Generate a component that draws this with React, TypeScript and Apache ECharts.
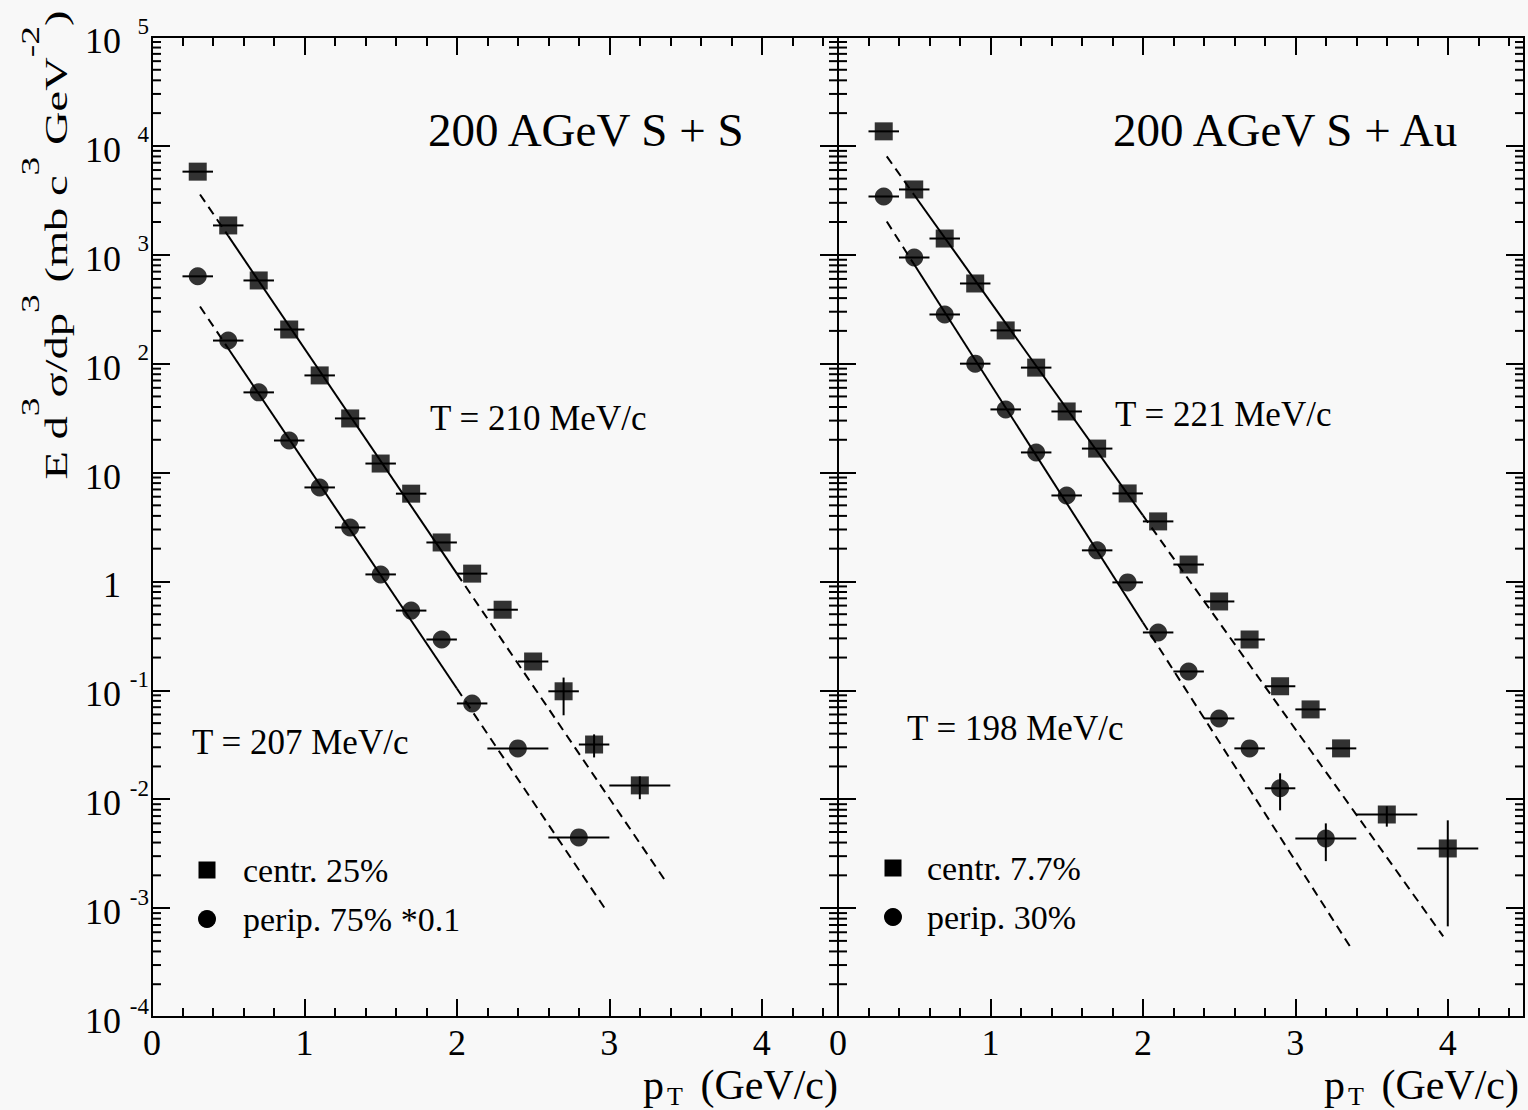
import React, { useEffect, useRef } from "react";
import * as echarts from "echarts";

const SERIF = "'Liberation Serif', 'Times New Roman', serif";
const INK = "#000";
const X_MAX = 4.5;

// ---- 200 AGeV S + S ----
const ssCentralPt = [0.3, 0.5, 0.7, 0.9, 1.1, 1.3, 1.5, 1.7, 1.9, 2.1, 2.3, 2.5, 2.7, 2.9, 3.2];
const ssCentralVal = [5800, 1860, 581, 206, 78, 31.4, 12.1, 6.4, 2.28, 1.18, 0.55, 0.184, 0.098, 0.0318, 0.0134];
const ssCentralDx = [0.1, 0.1, 0.1, 0.1, 0.1, 0.1, 0.1, 0.1, 0.1, 0.1, 0.1, 0.1, 0.1, 0.1, 0.2];
const ssCentralLo = [null, null, null, null, null, null, null, null, null, null, null, null, 0.059, 0.0242, 0.0100];
const ssCentralHi = [null, null, null, null, null, null, null, null, null, null, null, null, 0.131, 0.0394, 0.0162];

const ssPeriphPt = [0.3, 0.5, 0.7, 0.9, 1.1, 1.3, 1.5, 1.7, 1.9, 2.1, 2.4, 2.8];
const ssPeriphVal = [634, 163, 54.5, 19.7, 7.3, 3.13, 1.16, 0.54, 0.293, 0.0758, 0.0293, 0.00446];
const ssPeriphDx = [0.1, 0.1, 0.1, 0.1, 0.1, 0.1, 0.1, 0.1, 0.1, 0.1, 0.2, 0.2];

// ---- 200 AGeV S + Au ----
const sauCentralPt = [0.3, 0.5, 0.7, 0.9, 1.1, 1.3, 1.5, 1.7, 1.9, 2.1, 2.3, 2.5, 2.7, 2.9, 3.1, 3.3, 3.6, 4.0];
const sauCentralVal = [13600, 3980, 1410, 545, 202, 92, 36.4, 16.6, 6.43, 3.56, 1.43, 0.655, 0.293, 0.109, 0.0668, 0.0293, 0.00724, 0.00353];
const sauCentralDx = [0.1, 0.1, 0.1, 0.1, 0.1, 0.1, 0.1, 0.1, 0.1, 0.1, 0.1, 0.1, 0.1, 0.1, 0.1, 0.1, 0.2, 0.2];
const sauCentralLo = [null, null, null, null, null, null, null, null, null, null, null, null, null, null, null, null, 0.0056, 0.00068];
const sauCentralHi = [null, null, null, null, null, null, null, null, null, null, null, null, null, null, null, null, 0.0086, 0.0064];

const sauPeriphPt = [0.3, 0.5, 0.7, 0.9, 1.1, 1.3, 1.5, 1.7, 1.9, 2.1, 2.3, 2.5, 2.7, 2.9, 3.2];
const sauPeriphVal = [3430, 944, 283, 100, 38, 15.3, 6.16, 1.93, 0.98, 0.34, 0.149, 0.0552, 0.0293, 0.0126, 0.00436];
const sauPeriphDx = [0.1, 0.1, 0.1, 0.1, 0.1, 0.1, 0.1, 0.1, 0.1, 0.1, 0.1, 0.1, 0.1, 0.1, 0.2];
const sauPeriphLo = [null, null, null, null, null, null, null, null, null, null, null, null, null, 0.0079, 0.0027];
const sauPeriphHi = [null, null, null, null, null, null, null, null, null, null, null, null, null, 0.0173, 0.0060];

// Exponential fits: [start of dashed part, start of solid part, end of solid part, end of dashed part]
const fitSSCentral = [[0.315, 3580], [0.5, 1490], [2.0, 1.18], [3.37, 0.00176]];
const fitSSPeriph = [[0.315, 335], [0.5, 138], [2.0, 0.104], [2.98, 0.00095]];
const fitSAuCentral = [[0.32, 8000], [0.5, 3540], [2.0, 4.04], [3.97, 0.00055]];
const fitSAuPeriph = [[0.32, 2020], [0.5, 813], [2.0, 0.42], [3.37, 0.00042]];

const decadeMinors = [2, 3, 4, 5, 6, 7, 8, 9];
const decadeExponents = [-4, -3, -2, -1, 0, 1, 2, 3, 4];

const GRID_TOP = 37;
const GRID_H = 980;
const PANEL_W = 686;
const LEFT_X = 152;
const RIGHT_X = LEFT_X + PANEL_W;

function errorData(pt: number[], val: number[], dx: number[], lo?: (number | null)[], hi?: (number | null)[]) {
  return pt.map((x, i) => [
    x,
    val[i],
    x - dx[i],
    x + dx[i],
    lo && lo[i] != null ? (lo[i] as number) : val[i],
    hi && hi[i] != null ? (hi[i] as number) : val[i],
  ]);
}

const errRender = (_params: any, api: any) => {
  const x = api.value(0);
  const y = api.value(1);
  const c = api.coord([x, y]);
  const l = api.coord([api.value(2), y]);
  const r = api.coord([api.value(3), y]);
  const st = { stroke: INK, lineWidth: 2 };
  const children: any[] = [
    { type: "line", shape: { x1: l[0], y1: c[1], x2: r[0], y2: c[1] }, style: st },
  ];
  const lo = api.value(4);
  const hi = api.value(5);
  if (lo !== y || hi !== y) {
    const b = api.coord([x, lo]);
    const t = api.coord([x, hi]);
    children.push({ type: "line", shape: { x1: c[0], y1: b[1], x2: c[0], y2: t[1] }, style: st });
  }
  return { type: "group", children };
};

const minorTickRender = (_params: any, api: any) => {
  const v = api.value(1);
  const a = api.coord([0, v]);
  const b = api.coord([X_MAX, v]);
  const st = { stroke: INK, lineWidth: 2 };
  return {
    type: "group",
    children: [
      { type: "line", shape: { x1: a[0], y1: a[1], x2: a[0] + 9, y2: a[1] }, style: st },
      { type: "line", shape: { x1: b[0] - 9, y1: b[1], x2: b[0], y2: b[1] }, style: st },
    ],
  };
};

function minorTickData() {
  const out: number[][] = [];
  decadeExponents.forEach((e) => decadeMinors.forEach((m) => out.push([0, m * Math.pow(10, e)])));
  return out;
}

function xAxes(grid: number) {
  const base = {
    type: "value",
    gridIndex: grid,
    min: 0,
    max: X_MAX,
    splitLine: { show: false },
    axisLine: { show: true, onZero: false, lineStyle: { color: INK, width: 2 } },
  };
  const axes: any[] = [];
  (["bottom", "top"] as const).forEach((pos) => {
    axes.push({
      ...base,
      position: pos,
      interval: 0.2,
      axisTick: { show: true, inside: true, length: 9, lineStyle: { color: INK, width: 2 } },
      axisLabel: { show: false },
    });
    axes.push({
      ...base,
      position: pos,
      interval: 1,
      axisTick: { show: true, inside: true, length: 18, lineStyle: { color: INK, width: 2 } },
      axisLabel: {
        show: pos === "bottom",
        margin: 11,
        color: INK,
        fontFamily: SERIF,
        fontSize: 36,
        lineHeight: 30,
        formatter: (v: number) => (Math.abs(v - Math.round(v)) < 1e-6 && v <= 4 ? String(Math.round(v)) : ""),
      },
    });
  });
  return axes;
}

function yAxis(grid: number, pos: "left" | "right", labels: boolean) {
  return {
    type: "log",
    logBase: 10,
    gridIndex: grid,
    position: pos,
    min: 1e-4,
    max: 1e5,
    splitNumber: 9,
    splitLine: { show: false },
    minorTick: { show: false },
    axisLine: { show: true, onZero: false, lineStyle: { color: INK, width: 2 } },
    axisTick: { show: true, inside: true, length: 18, lineStyle: { color: INK, width: 2 } },
    axisLabel: {
      show: labels,
      margin: 3,
      color: INK,
      fontFamily: SERIF,
      formatter: (v: number) => {
        const e = Math.round(Math.log10(v));
        if (e === 0) return "{b|1}{e| }";
        if (e === 1) return "{b|10}{e| }";
        return `{b|10}{e|${e}}`;
      },
      rich: {
        b: { fontSize: 36, fontFamily: SERIF, color: INK, lineHeight: 44, padding: [8, 0, 0, 0] },
        e: { fontSize: 23, fontFamily: SERIF, color: INK, lineHeight: 22, padding: [4, 0, 26, 0], width: 28, align: "right" },
      },
    },
  };
}

function panelSeries(
  xBase: number,
  yBase: number,
  central: { name: string; data: number[][] },
  periph: { name: string; data: number[][] },
  fits: number[][][]
) {
  const xi = xBase + 1;
  const series: any[] = [];
  series.push({
    type: "custom",
    xAxisIndex: xi,
    yAxisIndex: yBase,
    renderItem: minorTickRender,
    data: minorTickData(),
    silent: true,
    z: 1,
  });
  fits.forEach((f) => {
    series.push({
      type: "line",
      xAxisIndex: xi,
      yAxisIndex: yBase,
      data: [f[1], f[2]],
      showSymbol: false,
      lineStyle: { color: INK, width: 2 },
      silent: true,
      z: 2,
    });
    [[f[0], f[1]], [f[2], f[3]]].forEach((seg) =>
      series.push({
        type: "line",
        xAxisIndex: xi,
        yAxisIndex: yBase,
        data: seg,
        showSymbol: false,
        lineStyle: { color: INK, width: 2, type: [9, 6] },
        silent: true,
        z: 2,
      })
    );
  });
  [central, periph].forEach((s, k) => {
    series.push({
      type: "custom",
      xAxisIndex: xi,
      yAxisIndex: yBase,
      renderItem: errRender,
      data: s.data,
      silent: true,
      z: 3,
    });
    series.push({
      type: "scatter",
      name: s.name,
      xAxisIndex: xi,
      yAxisIndex: yBase,
      symbol: k === 0 ? "rect" : "circle",
      symbolSize: 18,
      itemStyle: { color: INK },
      data: s.data.map((d) => [d[0], d[1]]),
      z: 4,
    });
  });
  return series;
}

function legendItems(x: number, y1: number, y2: number, t1: string, t2: string, tx: number) {
  return [
    { type: "rect", shape: { x: x - 8.5, y: y1 - 8.5, width: 17, height: 17 }, style: { fill: INK } },
    { type: "circle", shape: { cx: x, cy: y2, r: 9 }, style: { fill: INK } },
    { type: "text", x: tx, y: y1, style: { text: t1, font: `34px ${SERIF}`, fill: INK, verticalAlign: "middle" } },
    { type: "text", x: tx, y: y2, style: { text: t2, font: `34px ${SERIF}`, fill: INK, verticalAlign: "middle" } },
  ];
}

function label(text: string, x: number, y: number, size: number) {
  return { type: "text", x, y, style: { text, font: `${size}px ${SERIF}`, fill: INK, verticalAlign: "middle" } };
}

// "p_T (GeV/c)" axis title, laid out from its right edge
function ptTitle(xRight: number) {
  return [
    { type: "text", x: xRight - 195, y: 1085, style: { text: "p", font: `42px ${SERIF}`, fill: INK, verticalAlign: "middle" } },
    { type: "text", x: xRight - 171, y: 1096, style: { text: "T", font: `26px ${SERIF}`, fill: INK, verticalAlign: "middle" } },
    { type: "text", x: xRight, y: 1085, style: { text: "(GeV/c)", font: `42px ${SERIF}`, fill: INK, align: "right", verticalAlign: "middle" } },
  ];
}

export default function App() {
  const ref = useRef<HTMLDivElement>(null);

  useEffect(() => {
    if (!ref.current) return;
    const chart = echarts.init(ref.current, undefined, { renderer: "svg" });

    // rotated y title: tokens padded to the same height so the exponents sit above the baseline
    const sup = { fontSize: 25, fontFamily: SERIF, fill: INK, lineHeight: 26, padding: [0, 0, 28, 0] };
    const main = { fontSize: 31, fontFamily: SERIF, fill: INK, lineHeight: 30, padding: [24, 0, 0, 0] };

    chart.setOption({
      animation: false,
      backgroundColor: "#f8f8f8",
      grid: [
        { left: LEFT_X, top: GRID_TOP, width: PANEL_W, height: GRID_H },
        { left: RIGHT_X, top: GRID_TOP, width: PANEL_W, height: GRID_H },
      ],
      xAxis: [...xAxes(0), ...xAxes(1)],
      yAxis: [yAxis(0, "left", true), yAxis(0, "right", false), yAxis(1, "left", false), yAxis(1, "right", false)],
      series: [
        ...panelSeries(
          0,
          0,
          { name: "centr. 25%", data: errorData(ssCentralPt, ssCentralVal, ssCentralDx, ssCentralLo, ssCentralHi) },
          { name: "perip. 75% *0.1", data: errorData(ssPeriphPt, ssPeriphVal, ssPeriphDx) },
          [fitSSCentral, fitSSPeriph]
        ),
        ...panelSeries(
          4,
          2,
          { name: "centr. 7.7%", data: errorData(sauCentralPt, sauCentralVal, sauCentralDx, sauCentralLo, sauCentralHi) },
          { name: "perip. 30%", data: errorData(sauPeriphPt, sauPeriphVal, sauPeriphDx, sauPeriphLo, sauPeriphHi) },
          [fitSAuCentral, fitSAuPeriph]
        ),
      ],
      graphic: [
        label("200 AGeV S + S", 428, 130, 47),
        label("200 AGeV S + Au", 1113, 130, 47),
        label("T = 210 MeV/c", 430, 418, 35),
        label("T = 207 MeV/c", 192, 742, 35),
        label("T = 221 MeV/c", 1115, 414, 35),
        label("T = 198 MeV/c", 907, 728, 35),
        ...legendItems(207, 870, 919, "centr. 25%", "perip. 75% *0.1", 243),
        ...legendItems(893, 868, 917, "centr. 7.7%", "perip. 30%", 927),
        ...ptTitle(838),
        ...ptTitle(1519),
        {
          type: "text",
          x: 45,
          y: 245,
          rotation: Math.PI / 2,
          scaleX: 1.5,
          style: {
            text: "{m|E d}{u|3}{m|σ/dp}{u|3}{m| (mb c}{u|3}{m| GeV}{u|-2}{m|)}",
            align: "center",
            verticalAlign: "middle",
            rich: { m: main, u: sup },
          },
        },
      ],
    });

    return () => chart.dispose();
  }, []);

  return (
    <div
      ref={ref}
      style={{ position: "fixed", left: 0, top: 0, width: 1528, height: 1110 }}
    />
  );
}
